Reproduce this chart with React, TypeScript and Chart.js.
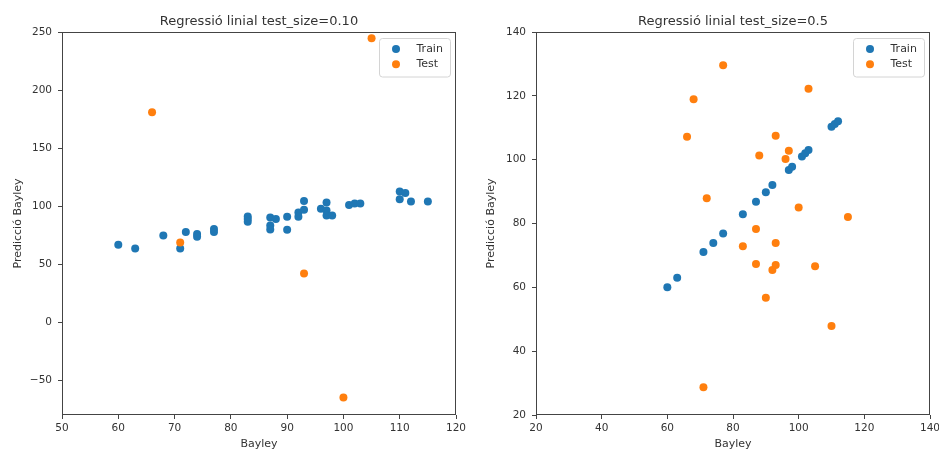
import { useEffect, useRef } from "react";
import { Chart, registerables } from "chart.js";

Chart.register(...registerables);

const BLUE = "#1f77b4";
const ORANGE = "#ff7f0e";
const FONT = "'DejaVu Sans', sans-serif";
const TEXT = "#333333";
const AXIS = "#444444";

const seriesNames = ["Train", "Test"];
const titles = ["Regressió linial test_size=0.10", "Regressió linial test_size=0.5"];
const xLabel = "Bayley";
const yLabel = "Predicció Bayley";

// Left chart (test_size=0.10)
const trainX1 = [60, 63, 68, 71, 72, 74, 74, 77, 77, 83, 83, 83, 87, 87, 87, 88, 90, 90, 92, 92, 93, 93, 96, 97, 97, 97, 98, 101, 102, 103, 110, 110, 111, 112, 115];
const trainY1 = [66.7, 63.5, 74.7, 63.5, 77.6, 75.9, 73.6, 80.2, 77.6, 91, 88.8, 86.5, 90.2, 83.3, 79.9, 88.8, 90.8, 79.6, 94.5, 90.8, 96.8, 104.3, 97.7, 96.2, 103.1, 91.9, 91.9, 100.9, 102.2, 102.2, 112.6, 106, 111.2, 104, 104];
const testX1 = [66, 71, 93, 100, 105];
const testY1 = [180.8, 68.7, 42, -65, 244.6];
const xTicks1 = [50, 60, 70, 80, 90, 100, 110, 120];
const yTicks1 = [-50, 0, 50, 100, 150, 200, 250];

// Right chart (test_size=0.5)
const trainX2 = [60, 63, 71, 74, 77, 83, 87, 90, 92, 97, 98, 101, 102, 103, 110, 111, 112];
const trainY2 = [60, 63, 71.1, 73.9, 76.9, 82.9, 86.8, 89.8, 92.1, 96.8, 97.8, 101, 102, 103, 110.3, 111.2, 112];
const testX2 = [77, 68, 103, 66, 93, 97, 88, 96, 72, 100, 115, 87, 93, 83, 87, 93, 92, 105, 90, 110, 71];
const testY2 = [129.6, 118.9, 122.2, 107.2, 107.5, 102.8, 101.3, 100.2, 87.9, 85, 82, 78.3, 73.9, 72.9, 67.3, 67, 65.4, 66.6, 56.7, 47.9, 28.7];
const xTicks2 = [20, 40, 60, 80, 100, 120, 140];
const yTicks2 = [20, 40, 60, 80, 100, 120, 140];

function pts(xs: number[], ys: number[]) {
  return xs.map((x, i) => ({ x, y: ys[i] }));
}

function fmt(v: number) {
  return v < 0 ? "\u2212" + Math.abs(v) : String(v);
}

const frameLegendPlugin = {
  id: "frameLegend",
  afterDatasetsDraw(chart: any) {
    const { ctx, chartArea: a } = chart;
    ctx.save();
    // frame (spines)
    const l = Math.round(a.left) + 0.5;
    const r = Math.round(a.right) - 0.5;
    const t = Math.round(a.top) + 0.5;
    const b = Math.round(a.bottom) - 0.5;
    ctx.strokeStyle = AXIS;
    ctx.lineWidth = 1;
    ctx.strokeRect(l, t, r - l, b - t);
    // legend
    const bw = 71;
    const bh = 38.5;
    const bx = Math.round(a.right - 6 - bw);
    const by = Math.round(a.top + 6);
    ctx.beginPath();
    (ctx as any).roundRect(bx + 0.5, by + 0.5, bw, bh, 3);
    ctx.fillStyle = "rgba(255,255,255,0.8)";
    ctx.fill();
    ctx.strokeStyle = "#d4d4d4";
    ctx.stroke();
    chart.data.datasets.forEach((ds: any, i: number) => {
      const cy = by + 11 + i * 15.3;
      ctx.beginPath();
      ctx.arc(bx + 17, cy, 4, 0, Math.PI * 2);
      ctx.fillStyle = ds.backgroundColor;
      ctx.fill();
      ctx.fillStyle = TEXT;
      ctx.font = `11px ${FONT}`;
      ctx.textBaseline = "middle";
      ctx.textAlign = "left";
      ctx.fillText(ds.label, bx + 37.5, cy);
    });
    ctx.restore();
  },
};

type PanelProps = {
  width: number;
  title: string;
  train: { x: number; y: number }[];
  test: { x: number; y: number }[];
  xTicks: number[];
  yTicks: number[];
  xMin: number;
  xMax: number;
  yMin: number;
  yMax: number;
  yAxisWidth: number;
  rightPad: number;
  yTitlePad: number;
};

function Panel(p: PanelProps) {
  const ref = useRef<HTMLCanvasElement | null>(null);
  useEffect(() => {
    if (!ref.current) return;
    const chart = new Chart(ref.current, {
      type: "scatter",
      data: {
        datasets: [
          {
            label: seriesNames[0],
            data: p.train,
            backgroundColor: BLUE,
            borderColor: BLUE,
            pointRadius: 4,
            pointHoverRadius: 4,
            pointBorderWidth: 0,
            order: 1,
          },
          {
            label: seriesNames[1],
            data: p.test,
            backgroundColor: ORANGE,
            borderColor: ORANGE,
            pointRadius: 4,
            pointHoverRadius: 4,
            pointBorderWidth: 0,
            order: 0,
          },
        ],
      },
      options: {
        responsive: false,
        animation: false,
        devicePixelRatio: 1,
        layout: { padding: { left: 0, top: 0, right: p.rightPad, bottom: 0 } },
        plugins: {
          legend: { display: false },
          tooltip: { enabled: false },
          title: {
            display: true,
            text: p.title,
            fullSize: false,
            color: TEXT,
            font: { family: FONT, size: 13, lineHeight: 1.2, weight: "normal" },
            padding: { top: 13.5, bottom: 2.9 },
          },
        },
        scales: {
          x: {
            type: "linear",
            min: p.xMin,
            max: p.xMax,
            afterBuildTicks: (s: any) => {
              s.ticks = p.xTicks.map((v) => ({ value: v }));
            },
            afterFit: (s: any) => {
              s.height = 35;
              s.paddingLeft = 0;
              s.paddingRight = 0;
            },
            grid: { display: true, drawOnChartArea: false, drawTicks: true, tickLength: 4, color: AXIS, lineWidth: 1 },
            border: { display: false },
            ticks: {
              autoSkip: false,
              maxRotation: 0,
              padding: 3,
              color: TEXT,
              font: { family: FONT, size: 10.5 },
              callback: (v: any) => fmt(Number(v)),
            },
            title: {
              display: true,
              text: xLabel,
              color: TEXT,
              font: { family: FONT, size: 11, lineHeight: 1 },
              padding: { top: 0, bottom: 0 },
            },
          },
          y: {
            type: "linear",
            min: p.yMin,
            max: p.yMax,
            afterBuildTicks: (s: any) => {
              s.ticks = p.yTicks.map((v) => ({ value: v }));
            },
            afterFit: (s: any) => {
              s.width = p.yAxisWidth;
              s.paddingTop = 0;
              s.paddingBottom = 0;
            },
            grid: { display: true, drawOnChartArea: false, drawTicks: true, tickLength: 4, color: AXIS, lineWidth: 1 },
            border: { display: false },
            ticks: {
              autoSkip: false,
              padding: 6,
              color: TEXT,
              font: { family: FONT, size: 10.5 },
              callback: (v: any) => fmt(Number(v)),
            },
            title: {
              display: true,
              text: yLabel,
              color: TEXT,
              font: { family: FONT, size: 11, lineHeight: 1.2 },
              padding: { top: p.yTitlePad, bottom: 0 },
            },
          },
        },
      } as any,
      plugins: [frameLegendPlugin],
    });
    return () => chart.destroy();
  }, []);
  return <canvas ref={ref} width={p.width} height={450} style={{ display: "block" }} />;
}

export default function App() {
  return (
    <div style={{ position: "absolute", left: 0, top: 0, width: 939, height: 450, background: "#fff", overflow: "hidden" }}>
      <div style={{ position: "absolute", left: 0, top: 0, width: 470, height: 450 }}>
        <Panel
          width={470}
          title={titles[0]}
          train={pts(trainX1, trainY1)}
          test={pts(testX1, testY1)}
          xTicks={xTicks1}
          yTicks={yTicks1}
          xMin={50}
          xMax={120}
          yMin={-80}
          yMax={250}
          yAxisWidth={62}
          rightPad={14}
          yTitlePad={12}
        />
      </div>
      <div style={{ position: "absolute", left: 470, top: 0, width: 469, height: 450 }}>
        <Panel
          width={469}
          title={titles[1]}
          train={pts(trainX2, trainY2)}
          test={pts(testX2, testY2)}
          xTicks={xTicks2}
          yTicks={yTicks2}
          xMin={20}
          xMax={140}
          yMin={20}
          yMax={140}
          yAxisWidth={66}
          rightPad={9}
          yTitlePad={15}
        />
      </div>
    </div>
  );
}
